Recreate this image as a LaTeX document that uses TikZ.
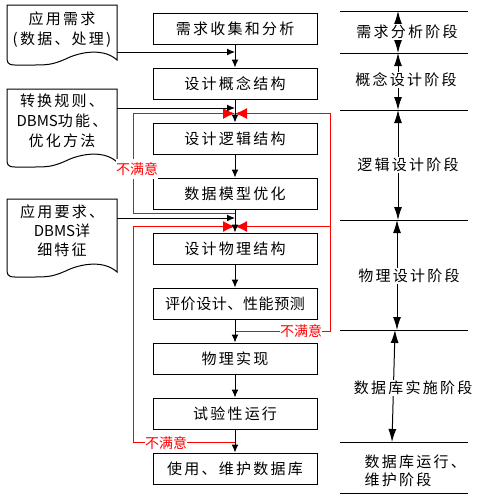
\documentclass[tikz,border=0pt]{standalone}
\usepackage{fontspec}
\setmainfont{Noto Sans CJK SC}[LetterSpace=15]
\newfontfamily\tight{Noto Sans CJK SC}[LetterSpace=4]
\newfontfamily\plain{Noto Sans CJK SC}
\usetikzlibrary{arrows.meta}

\begin{document}
\begin{tikzpicture}[x=1pt, y=-1pt, line width=1pt,
    >={Latex[length=8pt,width=7pt]}, font=\fontsize{15}{20}\selectfont]
  \tikzstyle{box}=[draw, minimum width=164pt, minimum height=31pt, inner sep=0pt]
  \tikzstyle{doc}=[align=center, inner sep=0pt]
  \tikzstyle{fb}=[red, -{Latex[length=12pt,width=11pt]}]
  \tikzstyle{bad}=[red, fill=white, inner xsep=0pt, inner ysep=1pt,
    font=\plain\fontsize{14}{16}\selectfont]
  \tikzstyle{stage}=[fill=white, inner sep=1pt]
  \tikzstyle{span}=[{Latex[length=13pt,width=8pt]}-{Latex[length=13pt,width=8pt]}]

  \useasboundingbox (0,0) rectangle (496,499);

  % steps of the design
  \foreach \i/\t in {1/需求收集和分析, 2/设计概念结构, 3/设计逻辑结构, 4/数据模型优化,
    5/设计物理结构, 6/{\tight 评价设计、性能预测}, 7/物理实现, 8/试验性运行, 9/使用、维护数据库}
  {
    \path (235, {55*\i-26.5}) node[box] (b\i) {\t};
  }

  % input documents
  \foreach \t/\b in {5/65, 89/167, 199/277}
  {
    \draw (7,\t) -- (117,\t) -- (117,\b-5)
      .. controls (105,\b-16) and (85,\b-14) .. (70,\b-8)
      .. controls (55,\b-1) and (50,\b) .. (35,\b) -- (15,\b)
      .. controls (7,\b) and (7,\b-3) .. (7,\b-9) -- cycle;
  }
  \path (62,30) node[doc] (d1) {应用需求\\(数据、处理)};
  \path (62,121) node[doc] (d2) {转换规则、\\{\plain DBMS}功能、\\优化方法};
  \path (62,231) node[doc] (d3) {应用要求、\\[-1pt]{\plain DBMS}详\\[-1pt]细特征};

  \coordinate (o1) at (117,52);
  \coordinate (o2) at (117,108);
  \coordinate (o3) at (117,218);
  \coordinate (j3) at ([yshift=9pt]b3.north);
  \coordinate (j5) at ([yshift=6pt]b5.north);
  \coordinate (f4) at ([yshift=-4pt]b4.south);
  \coordinate (f6) at ([yshift=-12pt]b6.south);
  \coordinate (f8) at ([yshift=-13pt]b8.south);
  \coordinate (lx) at (133,0);
  \coordinate (rx) at (330,0);

  % feedback
  \draw[fb] (f4) -- (f4 -| lx) -- (j3 -| lx) -- (j3);
  \draw[fb] (f6) -- (f6 -| rx) -- (j3 -| rx) -- (j3);
  \draw[fb] (j5 -| rx) -- (j5);
  \draw[fb] (f8) -- (f8 -| lx) -- (j5 -| lx) -- (j5);

  \draw[->] (o1) -- (o1 -| b1.south);
  \draw[->] (o2) -- (o2 -| b1.south);
  \draw[->] (o3) -- (o3 -| b1.south);

  \foreach \i [count=\j from 2] in {1,...,8}
  {
    \draw[->] (b\i) -- (b\j);
  }

  \node[bad, minimum height=20pt] (n1) at (137,169) {不满意};
  \node[bad] (n2) at (301,331) {不满意};
  \node[bad] (n3) at (166,443) {不满意};

  % stages
  \foreach \k/\y in {0/11, 1/53, 2/110, 3/220, 4/330, 5/442, 6/493}
  {
    \draw (340,\y) coordinate (h\k) -- (468,\y);
  }
  \foreach \a/\b/\u/\v in {0/1/58/58, 1/2/58/58, 2/3/58/58, 3/4/57/57, 4/5/55/52}
  {
    \draw[span] ([xshift=\u pt]h\a) -- ([xshift=\v pt]h\b);
  }
  \path (407,32) node[stage] (s1) {需求分析阶段};
  \path (406,80) node[stage] (s2) {概念设计阶段};
  \path (408,165) node[stage] (s3) {逻辑设计阶段};
  \path (409,276) node[stage] (s4) {物理设计阶段};
  \path (413,388) node[stage] (s5) {数据库实施阶段};
  \path (363,471) node[stage, anchor=west, align=left] (s6) {数据库运行、\\[-2pt]维护阶段};
\end{tikzpicture}
\end{document}
